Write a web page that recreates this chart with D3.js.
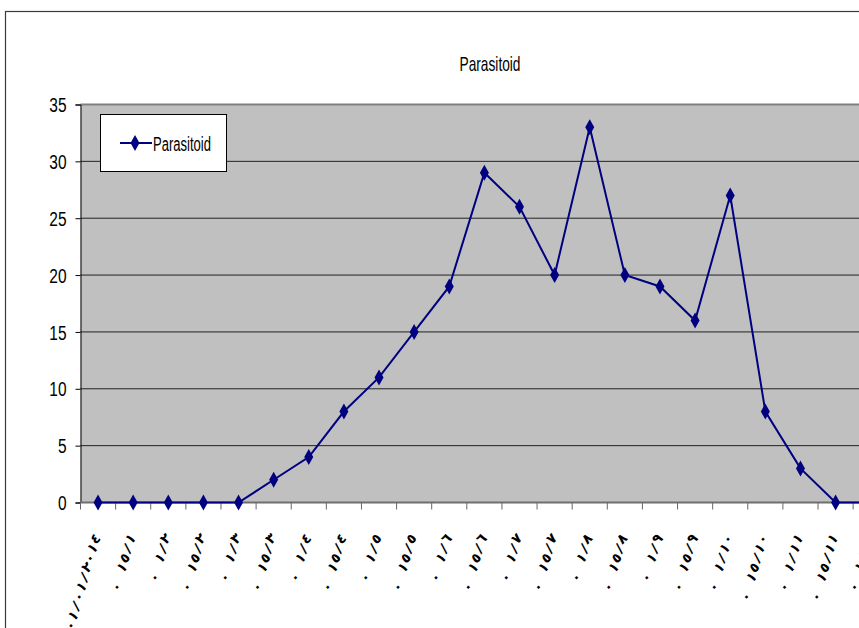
<!DOCTYPE html>
<html>
<head>
<meta charset="utf-8">
<script src="https://cdn.jsdelivr.net/npm/d3@7"></script>
<style>
  body { margin: 0; background: #fff; }
  svg { display: block; }
</style>
</head>
<body>
<div id="chart"></div>
<script>
// chart data
const categories = [
  "٠١/٠١/٢٠١٤", "٠ ١٥/١", "٠ ١/٢", "٠ ١٥/٢", "٠ ١/٣", "٠ ١٥/٣",
  "٠ ١/٤", "٠ ١٥/٤", "٠ ١/٥", "٠ ١٥/٥", "٠ ١/٦", "٠ ١٥/٦",
  "٠ ١/٧", "٠ ١٥/٧", "٠ ١/٨", "٠ ١٥/٨", "٠ ١/٩", "٠ ١٥/٩",
  "٠ ١/١٠", "٠ ١٥/١٠", "٠ ١/١١", "٠ ١٥/١١", "٠ ١/١٢", "٠ ١٥/١٢"
];
const parasitoid = [0, 0, 0, 0, 0, 2, 4, 8, 11, 15, 19, 29, 26, 20, 33, 20, 19, 16, 27, 8, 3, 0, 0, 0];
const yTicks = [0, 5, 10, 15, 20, 25, 30, 35];
const seriesName = "Parasitoid";
const chartTitle = "Parasitoid";

((() => {
  let width = 859;
  let height = 628;
  let plot = { left: 80.5, top: 104.5, bottom: 502.5 };
  let step = 35.12;

  let svg = d3.select("#chart")
    .append("svg")
    .attr("width", width)
    .attr("height", height);

  // outer chart frame (runs off the right/bottom edge)
  svg.append("rect")
    .attr("x", 5.5).attr("y", 11.5)
    .attr("width", 900).attr("height", 700)
    .attr("fill", "#fff")
    .attr("stroke", "#3a3a3a")
    .attr("stroke-width", 1.2);

  let x = d3.scaleBand()
    .domain(categories)
    .range([plot.left, plot.left + step * categories.length])
    .padding(0);

  let y = d3.scaleLinear()
    .domain([0, 35])
    .range([plot.bottom, plot.top]);

  let cx = (d) => x(d) + x.bandwidth() / 2;

  // plot background
  svg.append("rect")
    .attr("x", plot.left)
    .attr("y", plot.top)
    .attr("width", x.range()[1] - plot.left)
    .attr("height", plot.bottom - plot.top)
    .attr("fill", "#c0c0c0");

  // gridlines
  svg.append("g")
    .selectAll("line")
    .data(yTicks.filter(t => t > 0 && t < 35))
    .enter()
    .append("line")
    .attr("x1", plot.left).attr("x2", x.range()[1])
    .attr("y1", d => y(d)).attr("y2", d => y(d))
    .attr("stroke", "#222")
    .attr("stroke-width", 1);

  // top border of plot
  svg.append("line")
    .attr("x1", plot.left).attr("x2", x.range()[1])
    .attr("y1", y(35)).attr("y2", y(35))
    .attr("stroke", "#808080")
    .attr("stroke-width", 2);

  // y axis
  let yAxis = svg.append("g")
    .attr("transform", `translate(${plot.left},0)`)
    .call(d3.axisLeft(y).tickValues(yTicks).tickSize(5).tickPadding(9).tickFormat(d3.format("d")));
  yAxis.select(".domain").attr("stroke", "#000").attr("stroke-width", 1);
  yAxis.selectAll(".tick line").attr("stroke", "#000");
  yAxis.selectAll(".tick text")
    .attr("fill", "#000")
    .style("font-family", "'Liberation Sans', Arial, sans-serif")
    .style("font-size", "20px")
    .attr("textLength", d => String(d).length * 8.6)
    .attr("lengthAdjust", "spacingAndGlyphs")
    .attr("dy", "0.36em");

  // x axis line + ticks at category boundaries
  svg.append("line")
    .attr("x1", plot.left).attr("x2", x.range()[1])
    .attr("y1", plot.bottom).attr("y2", plot.bottom)
    .attr("stroke", "#6f6f6f")
    .attr("stroke-width", 2);

  svg.append("g")
    .selectAll("line")
    .data(categories)
    .enter()
    .append("line")
    .attr("x1", d => x(d)).attr("x2", d => x(d))
    .attr("y1", plot.bottom).attr("y2", plot.bottom + 7)
    .attr("stroke", "#666")
    .attr("stroke-width", 1);

  // x labels: glyphs tilted 45deg, stepped along a steeper line that ends at the category
  let angle = 74 * Math.PI / 180;
  let charStep = 10;
  let labels = svg.append("g")
    .selectAll("g")
    .data(categories)
    .enter()
    .append("g")
    .attr("transform", d => `translate(${cx(d) - 3},${plot.bottom + 36})`);

  labels.selectAll("text")
    .data(d => {
      let chars = Array.from(d);
      return chars.map((c, i) => ({ c: c, k: chars.length - 1 - i }));
    })
    .enter()
    .append("text")
    .attr("transform", d => `translate(${-d.k * charStep * Math.cos(angle)},${d.k * charStep * Math.sin(angle)}) rotate(-45)`)
    .attr("text-anchor", "middle")
    .attr("dy", "0.35em")
    .style("font-family", "'DejaVu Sans', sans-serif")
    .style("font-size", "14px")
    .style("font-weight", "bold")
    .attr("fill", "#000")
    .text(d => d.c);

  // series line
  let line = d3.line()
    .x((d, i) => cx(categories[i]))
    .y(d => y(d));

  svg.append("path")
    .datum(parasitoid)
    .attr("d", line)
    .attr("fill", "none")
    .attr("stroke", "#000080")
    .attr("stroke-width", 2);

  let diamond = "M0,-8L4.5,0L0,8L-4.5,0Z";

  svg.append("g")
    .selectAll("path")
    .data(parasitoid)
    .enter()
    .append("path")
    .attr("d", diamond)
    .attr("transform", (d, i) => `translate(${cx(categories[i])},${y(d)})`)
    .attr("fill", "#000080");

  // title
  svg.append("text")
    .attr("x", 490).attr("y", 71)
    .attr("text-anchor", "middle")
    .style("font-family", "'Liberation Sans', Arial, sans-serif")
    .style("font-size", "21px")
    .attr("textLength", 61)
    .attr("lengthAdjust", "spacingAndGlyphs")
    .text(chartTitle);

  // legend
  let legend = svg.append("g").attr("transform", "translate(100,114)");
  legend.append("rect")
    .attr("x", 0.5).attr("y", 0.5)
    .attr("width", 126).attr("height", 57)
    .attr("fill", "#fff")
    .attr("stroke", "#000")
    .attr("stroke-width", 1);
  legend.append("line")
    .attr("x1", 20).attr("x2", 52)
    .attr("y1", 29).attr("y2", 29)
    .attr("stroke", "#000080")
    .attr("stroke-width", 2);
  legend.append("path")
    .attr("d", diamond)
    .attr("transform", "translate(35,29)")
    .attr("fill", "#000080");
  legend.append("text")
    .attr("x", 53).attr("y", 37)
    .style("font-family", "'Liberation Sans', Arial, sans-serif")
    .style("font-size", "20px")
    .attr("textLength", 58)
    .attr("lengthAdjust", "spacingAndGlyphs")
    .text(seriesName);
})());
</script>
</body>
</html>
